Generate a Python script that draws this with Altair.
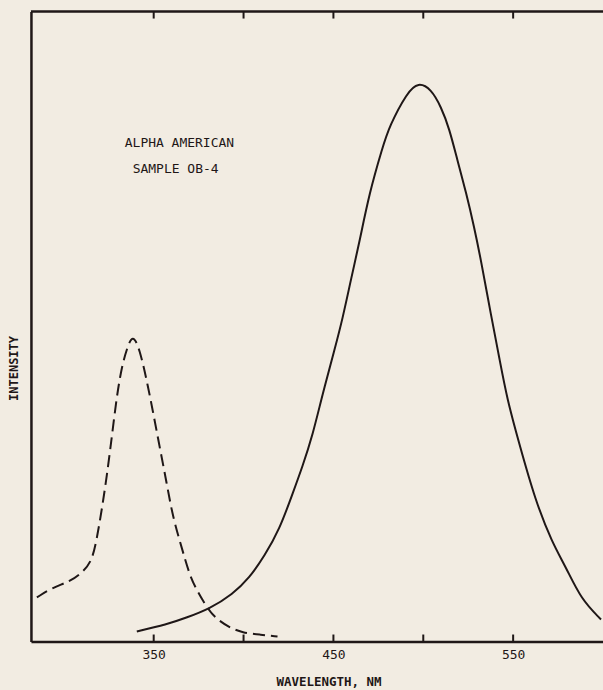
import altair as alt
import pandas as pd

# Emission spectrum (solid curve)
emission_nm = [340.6, 357.2, 368.3, 381.1, 393.9, 403.3, 411.7, 420.0, 427.2, 432.8,
               438.3, 443.9, 450.6, 455.0, 460.0, 464.4, 470.0, 477.2, 481.1, 491.1,
               497.2, 504.4, 510.0, 514.4, 518.9, 523.9, 528.3, 532.2, 537.8, 542.2,
               546.7, 553.3, 562.2, 571.7, 579.4, 587.8, 598.9]
emission_int = [1.6, 2.7, 3.8, 5.2, 7.5, 10.1, 13.6, 17.8, 23.4, 27.8,
                32.6, 39.2, 46.3, 51.1, 57.8, 63.3, 71.2, 78.3, 81.8, 87.2,
                88.8, 87.7, 84.8, 81.5, 76.5, 71.2, 65.8, 60.4, 51.6, 45.2,
                38.4, 31.5, 22.5, 15.7, 11.8, 6.7, 3.5]

# Excitation spectrum (dashed curve)
excitation_nm = [285.0, 293.9, 303.3, 310.0, 315.6, 318.3, 321.1, 323.9, 326.7, 329.4,
                 332.2, 335.0, 338.3, 342.2, 346.1, 349.4, 353.3, 357.2, 360.6, 365.6,
                 370.0, 373.9, 379.4, 383.9, 392.2, 399.4, 408.9, 418.9]
excitation_int = [7.0, 8.6, 9.5, 10.9, 12.7, 16.2, 20.9, 26.2, 32.5, 38.8,
                  43.6, 46.4, 48.9, 46.4, 41.5, 36.8, 30.9, 25.2, 19.8, 14.9,
                  10.5, 8.2, 5.5, 3.8, 2.2, 1.4, 1.1, 0.8]

# Axis ticks and labels
tick_nm = [350, 400, 450, 500, 550]
label_nm = [350, 450, 550]

# Sample annotation
note_text = ["ALPHA AMERICAN", "SAMPLE OB-4"]
note_nm = [333.9, 338.3]
note_int = [79.1, 75.0]

INK = "#1f1717"
PAPER = "#f2ece2"
FONT = "DejaVu Sans Mono"
W, H = 573, 631

x_scale = alt.Scale(domain=[281.7, 600], nice=False, zero=False)
y_scale = alt.Scale(domain=[0, 100], nice=False, zero=True)

emis = pd.DataFrame({"nm": emission_nm, "intensity": emission_int})
exci = pd.DataFrame({"nm": excitation_nm, "intensity": excitation_int})
ticks = pd.DataFrame({"nm": tick_nm})
notes = pd.DataFrame({"text": note_text, "nm": note_nm, "intensity": note_int})

x_axis = alt.Axis(
    values=label_nm, ticks=False, grid=False, domain=True,
    domainColor=INK, domainWidth=2.5,
    labelFont=FONT, labelFontSize=13, labelColor=INK, labelPadding=7,
    title="WAVELENGTH, NM", titleFont=FONT, titleFontSize=12.5,
    titleFontWeight="bold", titleColor=INK, titleX=298, titleY=40,
    titleAlign="center", titleBaseline="middle",
)
y_axis = alt.Axis(
    labels=False, ticks=False, grid=False, domain=True,
    domainColor=INK, domainWidth=2.5,
    title="INTENSITY", titleFont=FONT, titleFontSize=12,
    titleFontWeight="bold", titleColor=INK, titleX=-17, titleY=357,
    titleAlign="center", titleBaseline="middle",
)

emission = alt.Chart(emis).mark_line(
    color=INK, strokeWidth=2, interpolate="basis"
).encode(
    x=alt.X("nm:Q", scale=x_scale, axis=x_axis),
    y=alt.Y("intensity:Q", scale=y_scale, axis=y_axis),
)

excitation = alt.Chart(exci).mark_line(
    color=INK, strokeWidth=2, strokeDash=[12, 6], interpolate="basis"
).encode(
    x=alt.X("nm:Q", scale=x_scale),
    y=alt.Y("intensity:Q", scale=y_scale),
)

# Top frame line
top_frame = alt.Chart(pd.DataFrame({"k": [0]})).mark_rule(
    color=INK, strokeWidth=2.5
).encode(x=alt.value(0), x2=alt.value(W + 5), y=alt.value(0))

# Inward ticks on the bottom and top frame
bottom_ticks = alt.Chart(ticks).mark_rule(color=INK, strokeWidth=2).encode(
    x=alt.X("nm:Q", scale=x_scale), y=alt.value(H), y2=alt.value(H - 7)
)
top_ticks = alt.Chart(ticks).mark_rule(color=INK, strokeWidth=2).encode(
    x=alt.X("nm:Q", scale=x_scale), y=alt.value(0), y2=alt.value(7)
)

labels = alt.Chart(notes).mark_text(
    align="left", baseline="middle", font=FONT, fontSize=13, color=INK
).encode(
    x=alt.X("nm:Q", scale=x_scale),
    y=alt.Y("intensity:Q", scale=y_scale),
    text="text:N",
)

chart = alt.layer(
    top_frame, bottom_ticks, top_ticks, excitation, emission, labels
).properties(
    width=W, height=H, background=PAPER,
    autosize=alt.AutoSizeParams(type="none"),
    padding={"left": 31, "top": 11, "right": 0, "bottom": 48},
).configure_view(strokeWidth=0)

chart.save("out.html", embed_options={"renderer": "svg", "actions": False})
